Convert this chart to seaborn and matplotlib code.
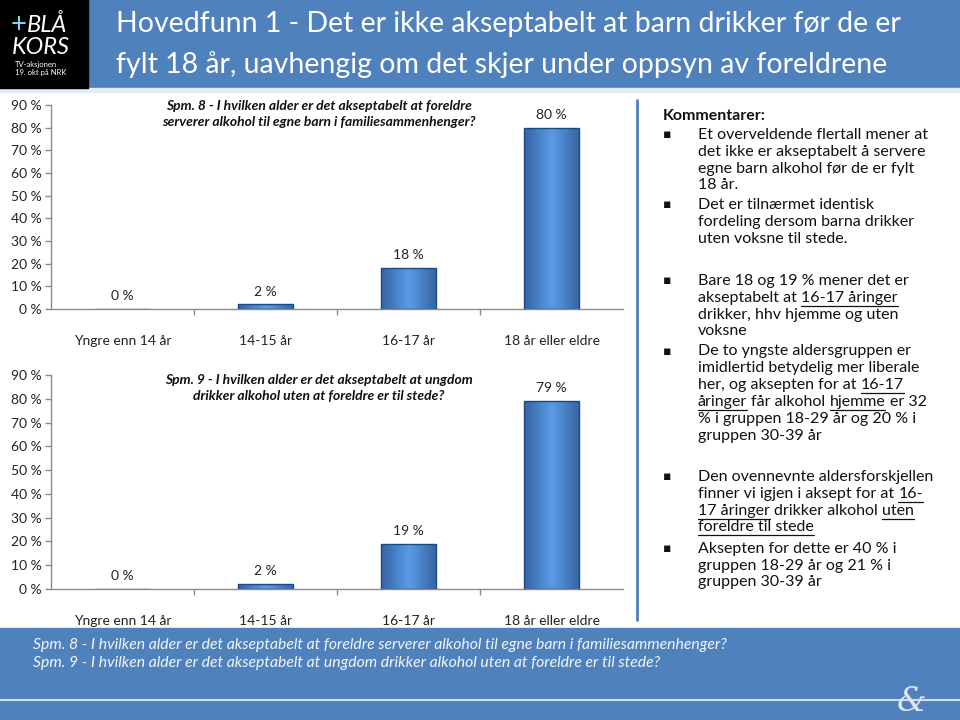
import numpy as np
import pandas as pd
import matplotlib
matplotlib.use("Agg")
import matplotlib.pyplot as plt
import seaborn as sns
from matplotlib.patches import Rectangle
from matplotlib.colors import LinearSegmentedColormap
from matplotlib.lines import Line2D

# ---------------- data ----------------
categories = ["Yngre enn 14 år", "14-15 år", "16-17 år", "18 år eller eldre"]
spm8_values = [0, 2, 18, 80]
spm9_values = [0, 2, 19, 79]
y_ticks = [0, 10, 20, 30, 40, 50, 60, 70, 80, 90]

title_lines = ["Hovedfunn 1 - Det er ikke akseptabelt at barn drikker før de er",
               "fylt 18 år, uavhengig om det skjer under oppsyn av foreldrene"]
spm8_title = "Spm. 8 - I hvilken alder er det akseptabelt at foreldre\nserverer alkohol til egne barn i familiesammenhenger?"
spm9_title = "Spm. 9 - I hvilken alder er det akseptabelt at ungdom\ndrikker alkohol uten at foreldre er til stede?"
footer_lines = ["Spm. 8 - I hvilken alder er det akseptabelt at foreldre serverer alkohol til egne barn i familiesammenhenger?",
                "Spm. 9 - I hvilken alder er det akseptabelt at ungdom drikker alkohol uten at foreldre er til stede?"]

# comment lines: (y pixel, bullet?, [(text, underline), ...])
comments = [
    (135, True, [("Et overveldende flertall mener at", False)]),
    (152, False, [("det ikke er akseptabelt å servere", False)]),
    (169, False, [("egne barn alkohol før de er fylt", False)]),
    (185, False, [("18 år.", False)]),
    (205, True, [("Det er tilnærmet identisk", False)]),
    (222, False, [("fordeling dersom barna drikker", False)]),
    (239, False, [("uten voksne til stede.", False)]),
    (281, True, [("Bare 18 og 19 % mener det er", False)]),
    (298, False, [("akseptabelt at ", False), ("16-17 åringer", True)]),
    (315, False, [("drikker, hhv hjemme og uten", False)]),
    (331, False, [("voksne", False)]),
    (351, True, [("De to yngste aldersgruppen er", False)]),
    (368, False, [("imidlertid betydelig mer liberale", False)]),
    (385, False, [("her, og aksepten for at ", False), ("16-17", True)]),
    (402, False, [("åringer", True), (" får alkohol ", False), ("hjemme", True), (" er 32", False)]),
    (419, False, [("% i gruppen 18-29 år og 20 % i", False)]),
    (436, False, [("gruppen 30-39 år", False)]),
    (477, True, [("Den ovennevnte aldersforskjellen", False)]),
    (494, False, [("finner vi igjen i aksept for at ", False), ("16-", True)]),
    (511, False, [("17 åringer", True), (" drikker alkohol ", False), ("uten", True)]),
    (527, False, [("foreldre til stede", True)]),
    (549, True, [("Aksepten for dette er 40 % i", False)]),
    (566, False, [("gruppen 18-29 år og 21 % i", False)]),
    (582, False, [("gruppen 30-39 år", False)]),
]

# ---------------- style ----------------
sns.set_theme(style="white")
plt.rcParams["font.family"] = ["Lato", "DejaVu Sans"]

W, H = 960, 720
fig = plt.figure(figsize=(9.6, 7.2), dpi=100)
fig.patch.set_facecolor("white")

def fx(px):
    return px / W

def fy(py):
    return 1 - py / H

BLUE = "#4f81bd"

# header
fig.patches.append(Rectangle((0, fy(88)), 1, 88 / H, transform=fig.transFigure,
                             color=BLUE, zorder=0))
fig.patches.append(Rectangle((0, fy(92)), 1, 4 / H, transform=fig.transFigure,
                             color="#e3ecf7", zorder=0))
fig.patches.append(Rectangle((0, fy(88)), fx(88), 88 / H, transform=fig.transFigure,
                             color="black", zorder=1))
fig.text(fx(11), fy(25), "+", color="#7fd6f0", fontsize=20, va="center", ha="left")
fig.text(fx(27), fy(25), "BLÅ", color="white", fontsize=17, va="center", ha="left",
         style="italic")
fig.text(fx(12), fy(48), "KORS", color="white", fontsize=17, va="center", ha="left",
         style="italic")
fig.text(fx(15), fy(65), "TV-aksjonen", color="white", fontsize=5.5, va="center", ha="left")
fig.text(fx(15), fy(73), "19. okt på NRK", color="white", fontsize=5.5, va="center", ha="left")

fig.text(fx(116), fy(24), title_lines[0], color="white", fontsize=20.5, va="center", ha="left")
fig.text(fx(116), fy(65), title_lines[1], color="white", fontsize=20.5, va="center", ha="left")

# footer
fig.patches.append(Rectangle((0, 0), 1, fy(628), transform=fig.transFigure,
                             color=BLUE, zorder=0))
fig.add_artist(Line2D([0, 1], [fy(700), fy(700)], transform=fig.transFigure,
                      color="#d5deea", lw=1.5))
fig.text(fx(33), fy(645), footer_lines[0], color="#f4f6fa", fontsize=11.3,
         style="italic", va="center", ha="left")
fig.text(fx(33), fy(663), footer_lines[1], color="#f4f6fa", fontsize=11.3,
         style="italic", va="center", ha="left")
fig.text(fx(912), fy(702), "&", color="#dfe5ee", fontsize=24, family="DejaVu Serif",
         style="italic", va="center", ha="center")

# ---------------- bar charts ----------------
edge_dark = "#3564a3"
light = "#5b9be6"
cmap = LinearSegmentedColormap.from_list("bar", [edge_dark, light, edge_dark])

def draw_chart(rect, values, title, title_y):
    ax = fig.add_axes(rect)
    df = pd.DataFrame({"cat": categories, "val": values})
    sns.barplot(data=df, x="cat", y="val", ax=ax, color="#3f7bc8", saturation=1,
                width=0.39, edgecolor="#1f4a80", linewidth=1)
    ax.set_ylim(0, 90)
    ax.set_xlim(-0.5, len(categories) - 0.5)
    ax.set_yticks(y_ticks)
    ax.set_yticklabels([f"{t} %" for t in y_ticks])
    ax.set_xlabel("")
    ax.set_ylabel("")
    for s in ["top", "right"]:
        ax.spines[s].set_visible(False)
    for s in ["left", "bottom"]:
        ax.spines[s].set_color("#8c8c8c")
        ax.spines[s].set_linewidth(1)
    ax.tick_params(axis="y", left=True, length=4, width=1, color="#8c8c8c",
                   labelsize=10, labelcolor="#222222", pad=3)
    ax.tick_params(axis="x", bottom=False, labelsize=10, labelcolor="#222222", pad=13)
    ax.set_xticks([0.5, 1.5, 2.5], minor=True)
    ax.tick_params(axis="x", which="minor", bottom=True, length=4, width=1,
                   color="#8c8c8c")
    ax.patch.set_alpha(0)
    # gradient fill
    grad = np.linspace(0, 1, 64)[None, :]
    for patch in list(ax.patches):
        x0, y0 = patch.get_xy()
        w, h = patch.get_width(), patch.get_height()
        if h <= 0:
            continue
        im = ax.imshow(grad, extent=(x0, x0 + w, y0, y0 + h), cmap=cmap,
                       aspect="auto", zorder=2, interpolation="bilinear")
        im.set_clip_path(patch)
        patch.set_facecolor("none")
        patch.set_zorder(3)
    ax.set_ylim(0, 90)
    ax.set_xlim(-0.5, len(categories) - 0.5)
    ax.set_aspect("auto")
    for cont in ax.containers:
        ax.bar_label(cont, labels=[f"{v} %" for v in values], padding=5,
                     fontsize=10, color="#222222")
    fig.text(fx(319), fy(title_y), title, fontsize=10, fontweight="bold",
             style="italic", color="#111111", ha="center", va="center",
             linespacing=1.35)
    return ax

draw_chart([fx(51), fy(309), fx(572), 204 / H], spm8_values, spm8_title, 114)
draw_chart([fx(51), fy(589), fx(572), 214 / H], spm9_values, spm9_title, 388)

# ---------------- comments ----------------
fig.add_artist(Line2D([fx(637), fx(637)], [fy(100), fy(620)],
                      transform=fig.transFigure, color=BLUE, lw=2))
fig.text(fx(663), fy(116), "Kommentarer:", fontsize=11.5, fontweight="bold",
         color="#111111", va="center", ha="left")

renderer = fig.canvas.get_renderer()
TX = 698.0
FS = 11.5

def text_width_px(s):
    t = fig.text(0, 0, s, fontsize=FS)
    bb = t.get_window_extent(renderer=renderer)
    t.remove()
    return bb.width

for (py, bullet, segs) in comments:
    if bullet:
        fig.text(fx(667), fy(py), "▪", fontsize=9, color="#111111",
                 va="center", ha="center", family=["DejaVu Sans"])
    prefix = ""
    for s, ul in segs:
        core = s.strip()
        lead = prefix + s[: len(s) - len(s.lstrip())]
        if lead:
            xpos = TX + text_width_px(lead + core) - text_width_px(core)
        else:
            xpos = TX
        t = fig.text(fx(xpos), fy(py), core, fontsize=FS, color="#111111",
                     va="center", ha="left")
        if ul:
            bb = t.get_window_extent(renderer=renderer)
            yline = fy(py + 8)
            fig.add_artist(Line2D([bb.x0 / W, bb.x1 / W], [yline, yline],
                                  transform=fig.transFigure, color="#111111", lw=0.9))
        prefix += s

fig.savefig("out.png", dpi=100)
